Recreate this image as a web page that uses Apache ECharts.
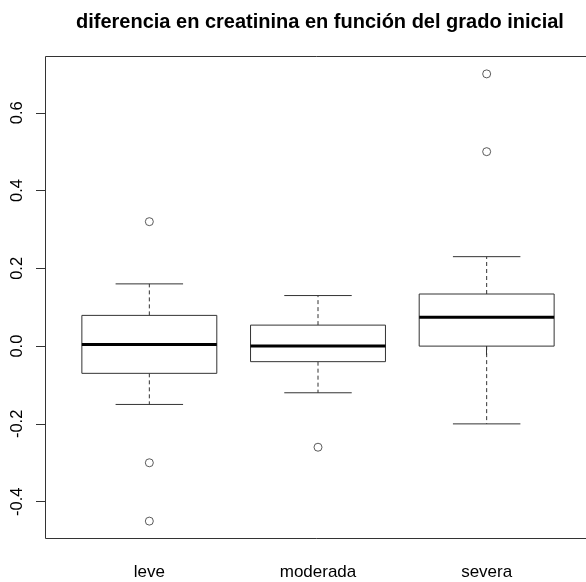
<!DOCTYPE html>
<html>
<head>
<meta charset="utf-8">
<script src="https://cdn.jsdelivr.net/npm/echarts@6/dist/echarts.min.js"></script>
<style>html,body{margin:0;padding:0;background:#fff;}#c{width:586px;height:582px;}</style>
</head>
<body>
<div id="c"></div>
<script>
// categories
const categories = ['leve', 'moderada', 'severa'];
// box statistics per category: [lower whisker, Q1, median, Q3, upper whisker]
const lowWhisker = [-0.15, -0.12, -0.20];
const q1 = [-0.07, -0.04, 0.0];
const median = [0.004, 0.0, 0.074];
const q3 = [0.079, 0.054, 0.134];
const highWhisker = [0.16, 0.13, 0.23];
// outliers: category index and value
const outlierCat = [0, 0, 0, 1, 2, 2];
const outlierVal = [0.32, -0.30, -0.45, -0.26, 0.50, 0.70];
// y tick labels
const yTicks = [-0.4, -0.2, 0.0, 0.2, 0.4, 0.6];
const title = 'diferencia en creatinina en función del grado inicial';

const FONT = 'Liberation Sans, Arial, Helvetica, sans-serif';
const boxData = categories.map((c, i) => [i, lowWhisker[i], q1[i], median[i], q3[i], highWhisker[i]]);
const outData = outlierCat.map((c, i) => [c, outlierVal[i]]);

const chart = echarts.init(document.getElementById('c'), null, {renderer: 'canvas'});
const LINE = '#333';

function renderBox(params, api) {
  const x = api.value(0);
  const band = api.size([1, 0])[0];
  const half = band * 0.4;
  const cap = band * 0.2;
  const pLow = api.coord([x, api.value(1)]);
  const pQ1 = api.coord([x, api.value(2)]);
  const pMed = api.coord([x, api.value(3)]);
  const pQ3 = api.coord([x, api.value(4)]);
  const pHigh = api.coord([x, api.value(5)]);
  const cx = pMed[0];
  const dash = {stroke: LINE, lineWidth: 1, lineDash: [4, 3]};
  const solid = {stroke: LINE, lineWidth: 1};
  return {
    type: 'group',
    children: [
      {type: 'line', shape: {x1: cx, y1: pQ3[1], x2: cx, y2: pHigh[1]}, style: dash},
      {type: 'line', shape: {x1: cx, y1: pQ1[1], x2: cx, y2: pLow[1]}, style: dash},
      {type: 'line', shape: {x1: cx - cap, y1: pHigh[1], x2: cx + cap, y2: pHigh[1]}, style: solid},
      {type: 'line', shape: {x1: cx - cap, y1: pLow[1], x2: cx + cap, y2: pLow[1]}, style: solid},
      {type: 'rect', shape: {x: cx - half, y: pQ3[1], width: half * 2, height: pQ1[1] - pQ3[1]}, style: {fill: '#fff', stroke: LINE, lineWidth: 1}},
      {type: 'line', shape: {x1: cx - half, y1: pMed[1], x2: cx + half, y2: pMed[1]}, style: {stroke: '#000', lineWidth: 3}}
    ]
  };
}

chart.setOption({
  backgroundColor: '#fff',
  animation: false,
  title: {
    text: title,
    left: 71,
    top: 7,
    textStyle: {fontFamily: FONT, fontWeight: 'bold', fontSize: 20, color: '#000'}
  },
  grid: {left: 65, right: 15, top: 56, bottom: 43, containLabel: false},
  xAxis: {
    type: 'category',
    data: categories,
    boundaryGap: true,
    axisLine: {show: false},
    axisTick: {show: true, alignWithLabel: true, length: 9, lineStyle: {color: LINE}},
    axisLabel: {margin: 25, fontFamily: FONT, fontSize: 17, color: '#000'},
    splitLine: {show: false}
  },
  yAxis: {
    type: 'value',
    min: -0.496,
    max: 0.746,
    offset: 20,
    axisLine: {show: false},
    axisTick: {show: true, length: 9, customValues: yTicks, lineStyle: {color: LINE}},
    axisLabel: {
      customValues: yTicks,
      rotate: 90,
      margin: 19,
      fontFamily: FONT, fontSize: 16.5, color: '#000',
      formatter: v => Number(v).toFixed(1)
    },
    splitLine: {show: false}
  },
  graphic: [{
    type: 'rect',
    shape: {x: 45.5, y: 56.5, width: 560, height: 482},
    style: {fill: 'none', stroke: LINE, lineWidth: 1},
    z: 10,
    silent: true
  }],
  series: [
    {type: 'custom', renderItem: renderBox, data: boxData, encode: {x: 0, y: [1, 2, 3, 4, 5]}, z: 2},
    {
      type: 'scatter',
      data: outData,
      symbol: 'circle',
      symbolSize: 8,
      itemStyle: {color: '#fff', borderColor: LINE, borderWidth: 1},
      z: 3
    }
  ]
});
</script>
</body>
</html>
